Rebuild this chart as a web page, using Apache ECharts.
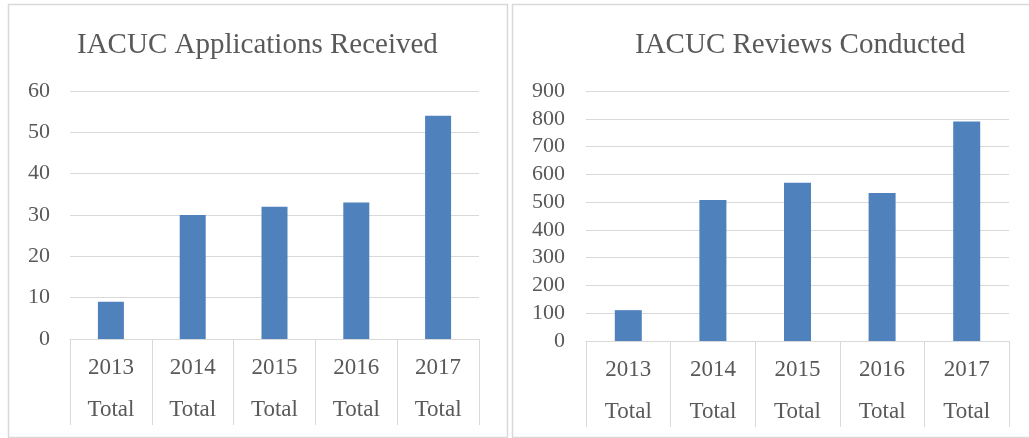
<!DOCTYPE html>
<html>
<head>
<meta charset="utf-8">
<title>IACUC charts</title>
<script src="https://cdn.jsdelivr.net/npm/echarts@6/dist/echarts.min.js"></script>
<style>
  html, body { margin: 0; padding: 0; background: #fff; }
  #main { width: 1029px; height: 438px; }
</style>
</head>
<body>
<div id="main"></div>
<script>
// data
var years = ["2013", "2014", "2015", "2016", "2017"];
var applications = [9, 30, 32, 33, 54];
var reviews = [111, 508, 570, 533, 790];

var font = "Liberation Serif, Times New Roman, serif";
var textColor = "#595959";
var lineColor = "#d9d9d9";
var barColor = "#4f81bd";

function catAxis(gridIndex) {
  return {
    type: "category",
    gridIndex: gridIndex,
    data: years,
    axisLine: { lineStyle: { color: lineColor, width: 1 } },
    axisTick: {
      show: true,
      length: 86,
      lineStyle: { color: lineColor, width: 1 }
    },
    axisLabel: {
      margin: 8,
      fontFamily: font,
      fontSize: 23,
      lineHeight: 42,
      color: textColor,
      formatter: function (v) {
        return v + "\nTotal";
      }
    }
  };
}

function valAxis(gridIndex, max, interval, margin) {
  return {
    type: "value",
    gridIndex: gridIndex,
    min: 0,
    max: max,
    interval: interval,
    axisLine: { show: false },
    axisTick: { show: false },
    axisLabel: {
      margin: margin,
      fontFamily: font,
      fontSize: 22,
      color: textColor
    },
    splitLine: { lineStyle: { color: lineColor, width: 1 } }
  };
}

var chart = echarts.init(document.getElementById("main"));
chart.setOption({
  animation: false,
  title: [
    {
      text: "IACUC Applications Received",
      left: 77,
      top: 31,
      padding: 0,
      textStyle: { fontFamily: font, fontSize: 29, fontWeight: "normal", color: textColor }
    },
    {
      text: "IACUC Reviews Conducted",
      left: 635,
      top: 31,
      padding: 0,
      textStyle: { fontFamily: font, fontSize: 29, fontWeight: "normal", color: textColor }
    }
  ],
  graphic: [
    {
      type: "rect",
      shape: { x: 8.5, y: 4.5, width: 499, height: 433 },
      style: { fill: null, stroke: lineColor, lineWidth: 1.5 },
      silent: true
    },
    {
      type: "rect",
      shape: { x: 512.5, y: 4.5, width: 520, height: 433 },
      style: { fill: null, stroke: lineColor, lineWidth: 1.5 },
      silent: true
    }
  ],
  grid: [
    { left: 70, right: 550, top: 91, bottom: 99 },
    { left: 586, right: 20, top: 91, bottom: 97 }
  ],
  xAxis: [catAxis(0), catAxis(1)],
  yAxis: [valAxis(0, 60, 10, 20), valAxis(1, 900, 100, 21)],
  series: [
    {
      type: "bar",
      xAxisIndex: 0,
      yAxisIndex: 0,
      data: applications,
      barWidth: 26,
      itemStyle: { color: barColor }
    },
    {
      type: "bar",
      xAxisIndex: 1,
      yAxisIndex: 1,
      data: reviews,
      barWidth: 27,
      itemStyle: { color: barColor }
    }
  ]
});
</script>
</body>
</html>
